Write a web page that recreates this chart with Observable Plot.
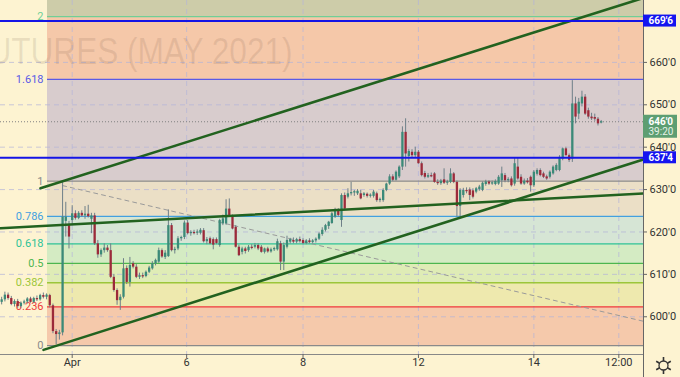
<!DOCTYPE html>
<html><head><meta charset="utf-8">
<script src="https://cdn.jsdelivr.net/npm/d3@7"></script>
<script src="https://cdn.jsdelivr.net/npm/@observablehq/plot@0.6"></script>
<style>html,body{margin:0;padding:0;background:#fdf3d1;overflow:hidden}</style>
</head><body><div id="chart"></div>
<script>
// hourly candles [open, high, low, close], bar index = position
const ohlc = [
[603.4,604.6,602.8,604.0],[604.0,605.8,603.5,605.1],[605.1,605.6,603.9,604.3],[604.3,604.8,602.6,602.9],[602.9,604.0,602.3,603.6],
[603.6,604.1,602.0,602.4],[602.4,603.5,602.0,603.2],[603.2,603.9,602.8,603.5],[603.5,604.5,603.0,604.2],[604.2,604.6,603.2,603.4],
[603.4,604.6,603.1,604.3],[604.3,604.9,603.6,604.0],[604.0,605.3,603.7,605.0],[605.0,605.6,604.2,604.6],[604.6,605.4,604.0,605.1],
[605.0,605.3,602.1,602.6],[602.6,603.0,596.0,596.5],[596.5,597.0,593.4,595.8],[595.8,596.8,594.5,596.2],[596.2,632.0,595.5,623.5],
[622.5,627.0,618.8,623.5],[621.5,622.5,616.0,618.8],[622.7,626.2,621.5,624.3],[624.3,625.0,622.8,623.2],[623.2,624.8,622.9,624.4],
[624.4,625.0,623.5,623.8],[623.8,626.0,623.0,624.2],[624.2,626.3,623.3,623.6],[623.0,624.4,619.6,623.8],[623.8,624.4,616.8,617.2],
[617.2,618.0,613.8,614.6],[614.6,616.0,614.0,615.6],[615.6,617.2,615.0,616.2],[616.2,616.8,615.2,615.6],[615.6,617.2,609.0,609.3],
[609.3,610.0,605.8,606.2],[606.2,606.6,602.7,603.8],[603.8,605.2,601.5,604.6],[604.6,613.7,604.2,611.3],[611.4,612.0,607.6,608.1],
[608.1,614.0,607.0,612.1],[612.5,613.0,611.3,611.7],[611.7,612.3,609.0,609.3],[609.3,610.3,608.8,609.7],[609.7,610.3,609.0,609.5],
[609.5,610.8,609.2,610.5],[610.5,611.9,610.2,611.5],[611.3,613.0,611.0,612.5],[612.5,613.6,612.0,613.3],[612.9,616.2,612.6,615.6],
[615.6,616.0,613.8,614.1],[614.0,615.6,613.5,615.0],[614.2,625.2,614.0,621.5],[621.5,622.0,615.3,615.6],[615.6,616.4,614.8,615.8],
[616.0,618.9,615.6,618.4],[618.4,619.0,617.8,618.7],[618.7,622.6,618.2,622.1],[622.1,622.7,619.3,619.6],[619.6,620.3,619.0,619.9],
[619.9,620.4,619.3,619.7],[619.7,620.5,619.2,620.0],[619.7,620.8,619.3,620.4],[620.3,620.8,617.4,617.7],[617.7,618.7,617.0,618.2],
[618.4,618.8,617.0,617.2],[618.2,618.6,615.8,616.9],[618.2,618.6,617.0,617.3],[616.8,623.0,616.4,622.7],[621.9,624.0,621.5,623.1],
[621.9,627.6,621.6,625.4],[625.4,627.8,623.5,623.9],[623.5,624.0,620.5,620.7],[621.1,621.5,616.2,616.4],[616.4,616.9,614.2,614.4],
[615.2,616.4,614.6,616.0],[616.0,616.4,614.8,615.4],[615.6,616.8,615.2,616.4],[616.4,617.0,615.8,616.2],[616.4,617.3,616.0,616.8],
[616.8,617.2,615.6,616.0],[616.4,616.8,615.0,615.2],[615.2,616.2,614.8,616.0],[616.0,616.4,615.0,615.3],[615.3,616.2,615.0,615.8],
[615.8,616.4,615.4,616.0],[615.8,618.3,615.5,617.7],[617.2,617.8,610.9,612.9],[612.9,617.4,610.9,616.8],[616.4,619.0,616.0,618.0],
[617.6,618.5,617.2,618.2],[618.0,618.6,617.2,617.6],[617.6,618.5,617.2,618.2],[618.2,618.8,617.4,617.8],[618.0,618.4,617.0,617.3],
[617.3,618.2,617.0,617.9],[617.9,618.4,617.2,617.5],[617.5,618.2,617.2,617.9],[617.9,618.6,617.4,618.3],[618.3,619.8,618.0,619.5],
[619.4,621.0,619.0,620.4],[620.4,621.8,620.0,621.5],[621.3,622.5,620.6,622.3],[622.0,624.6,621.8,624.3],[623.5,625.6,623.2,625.0],
[625.0,625.5,623.5,623.9],[622.7,629.0,621.1,628.6],[628.6,629.2,625.0,625.4],[628.2,630.2,627.8,629.0],[629.0,631.7,628.5,629.2],
[629.2,629.8,628.4,629.4],[629.0,630.0,628.6,629.6],[629.0,629.8,627.6,627.8],[628.6,629.3,628.2,629.0],[628.9,629.2,628.0,628.4],
[628.4,629.0,628.0,628.5],[628.4,629.8,628.0,629.4],[629.0,629.4,627.0,627.4],[627.4,628.0,626.9,627.6],[627.4,630.2,627.0,629.8],
[629.8,631.5,629.5,631.3],[631.3,633.5,631.0,633.0],[633.0,633.5,631.9,632.2],[632.2,634.4,632.0,634.1],[633.0,635.6,632.6,635.3],
[635.3,644.8,634.5,643.5],[643.5,646.7,635.3,638.4],[637.8,639.5,636.5,639.0],[638.8,639.4,637.5,638.0],[638.0,640.0,637.5,638.8],
[638.8,639.2,636.0,636.1],[636.1,636.5,633.0,633.3],[633.8,634.3,632.5,632.9],[632.9,633.8,632.6,633.3],[633.3,633.9,632.8,633.1],
[633.7,634.0,631.5,631.7],[631.7,632.3,631.0,631.4],[631.4,632.4,631.0,632.0],[632.3,634.9,631.2,631.5],[631.5,632.2,631.0,631.8],
[631.7,634.9,631.4,633.7],[633.7,634.0,631.4,631.7],[631.7,632.0,623.5,626.0],[626.0,630.2,623.5,629.8],[628.6,630.3,628.0,629.8],
[629.8,630.4,629.0,629.6],[629.9,630.4,627.4,628.6],[629.7,630.2,627.8,628.2],[629.4,630.5,629.0,630.2],[630.0,631.0,629.6,630.6],
[629.8,631.8,629.5,631.5],[631.2,632.2,630.8,631.8],[631.8,632.1,631.0,631.3],[631.3,632.0,631.0,631.6],[631.2,632.3,630.9,631.9],
[631.3,633.3,631.0,632.9],[632.1,635.3,630.5,633.7],[633.3,633.8,631.6,632.1],[632.1,632.8,631.6,632.4],[632.5,633.0,630.6,630.9],
[631.3,637.5,630.8,636.1],[635.3,637.5,632.2,632.5],[632.9,633.5,631.0,631.3],[631.3,632.5,631.0,632.0],[632.0,632.6,631.3,631.6],
[632.9,633.2,629.4,630.9],[630.9,634.5,630.5,634.1],[633.6,634.9,633.2,634.5],[634.5,634.9,633.0,633.3],[633.7,634.1,632.6,632.9],
[633.0,633.4,632.2,632.5],[632.9,634.4,632.5,634.1],[633.7,635.6,633.4,635.3],[634.5,636.1,634.2,635.7],[634.5,638.0,634.2,637.6],
[637.2,639.8,636.8,639.6],[639.6,640.0,637.9,638.0],[638.0,638.4,636.4,636.9],[637.2,655.7,636.4,650.2],[650.2,651.8,645.5,647.1],
[647.8,651.5,646.5,650.6],[650.2,653.2,649.5,651.8],[651.8,652.4,647.5,647.8],[648.6,649.2,646.6,647.1],[647.1,648.0,646.3,646.7],
[647.0,647.8,646.1,646.6],[646.6,647.0,645.0,645.5],[645.7,646.3,645.5,646.0]
];

// Fibonacci retracement
const fibLow = 593.2, fibHigh = 632.0, fibStartBar = 14.3;
const fibRatios = [0, 0.236, 0.382, 0.5, 0.618, 0.786, 1, 1.618, 2, 2.618];
const fibLabels = ["0", "0.236", "0.382", "0.5", "0.618", "0.786", "1", "1.618", "2"];
const fibLineColors = ["#8a8a8a", "#ee3b3b", "#9cc63a", "#4cb64e", "#2dc297", "#42a0e0", "#8a8a8a", "#5a5ae6", "#6fcf97"];
const fibBandColors = ["#f5c9ab", "#eee9ae", "#dfecb6", "#d4ebc3", "#d6e5d5", "#ebdfc6", "#d8cccd", "#f5c8a9", "#cdcca9"];

// horizontal levels & trend lines (bar index, price)
const blueLevels = [669.75, 637.5];
const blueLabels = ["669'6", "637'4"];
const currentPrice = 646.0, currentLabel = "646'0", countdown = "39:20";
const upperChannel = [[12.1, 630.31], [218, 679.45]];
const lowerChannel = [[13.05, 592.19], [200.2, 637.12]];
const flatLine = [[-0.365, 620.87], [200.2, 629.08]];
const dashedLine = [[19.0, 630.94], [200.2, 598.94]];

// axes
const priceTicks = [600, 610, 620, 630, 640, 650, 660];
const priceTickLabels = ["600'0", "610'0", "620'0", "630'0", "640'0", "650'0", "660'0"];
const timeTicks = [22, 57.7, 94, 130, 166, 192.5];
const timeTickLabels = ["Apr", "6", "8", "12", "14", "12:00"];
const watermark = "CORN FUTURES (MAY 2021)";

const xMin = -0.365, xMax = 200.2, yMin = 591.1, yMax = 674.6;
const pxX = 643 / (xMax - xMin), pxY = 354 / (yMax - yMin);

const candles = ohlc.map(([o, h, l, c], i) => ({i, o, h, l, c, up: c >= o}));
const fibLevel = r => fibLow + r * (fibHigh - fibLow);
const bands = fibBandColors.map((fill, k) => ({y1: fibLevel(fibRatios[k]), y2: Math.min(fibLevel(fibRatios[k + 1]), yMax), fill}));
const levels = fibLabels.map((label, k) => ({price: fibLevel(fibRatios[k]), label, color: fibLineColors[k]}));
const tags = blueLevels.map((price, k) => ({price, label: blueLabels[k]}));
const pts = a => a.map(([x, y]) => ({x, y}));
const grid = "#b4b4d8";
const gear = [{x: xMax + 20 / pxX, y: yMin - 11 / pxY}];

const chart = Plot.plot({
  width: 680, height: 377,
  marginLeft: 0, marginRight: 37, marginTop: 0, marginBottom: 23,
  x: {domain: [xMin, xMax], axis: null},
  y: {domain: [yMin, yMax], axis: null},
  color: {type: "identity"},
  style: {background: "#fdf3d1", fontFamily: "Roboto, 'Liberation Sans', sans-serif", fontSize: "11px"},
  marks: [
    Plot.rect(bands, {x1: () => fibStartBar, x2: () => xMax, y1: "y1", y2: "y2", fill: "fill"}),
    Plot.ruleX(timeTicks, {stroke: grid, strokeOpacity: 0.7, strokeDasharray: "5,4"}),
    Plot.ruleY(priceTicks, {stroke: grid, strokeOpacity: 0.7, strokeDasharray: "5,4"}),
    Plot.text([watermark], {frameAnchor: "top-left", dx: 292, dy: 37, textAnchor: "end", fontSize: 37,
      fill: "rgba(100,70,50,0.12)", fontFamily: "'Liberation Sans', sans-serif"}),
    Plot.ruleY(levels, {y: "price", x1: () => fibStartBar, x2: () => xMax, stroke: "color", strokeWidth: 1.3}),
    Plot.text(levels, {x: () => fibStartBar, y: "price", text: "label", textAnchor: "end", dx: -4, fill: "color", fontSize: 11}),
    Plot.ruleY([currentPrice], {stroke: "#808080", strokeDasharray: "1,2"}),
    Plot.line(pts(dashedLine), {x: "x", y: "y", stroke: "#9a9a9a", strokeDasharray: "4,4", strokeWidth: 1, clip: true}),
    Plot.ruleX(candles, {x: "i", y1: "l", y2: "h", stroke: "#6e7f88", strokeWidth: 1}),
    Plot.ruleX(candles, {x: "i", y1: "o", y2: d => Math.abs(d.c - d.o) < 0.3 ? d.o + (d.up ? 0.3 : -0.3) : d.c,
      stroke: d => d.up ? "#3b8a78" : "#9c2a3a", strokeWidth: 2.3}),
    Plot.line(pts(upperChannel), {x: "x", y: "y", stroke: "#22621f", strokeWidth: 2.6, clip: true}),
    Plot.line(pts(lowerChannel), {x: "x", y: "y", stroke: "#22621f", strokeWidth: 2.6, clip: true}),
    Plot.line(pts(flatLine), {x: "x", y: "y", stroke: "#22621f", strokeWidth: 2.6, clip: true}),
    Plot.ruleY(blueLevels, {stroke: "#1414e6", strokeWidth: 2}),
    // axes
    Plot.ruleX([xMax], {y1: yMax, y2: yMin - 23 / pxY, stroke: "#666"}),
    Plot.ruleY([yMin], {x1: xMin, x2: xMax, stroke: "#888"}),
    Plot.ruleY(priceTicks, {x1: xMax, x2: xMax + 4 / pxX, stroke: "#666"}),
    Plot.ruleX(timeTicks, {y1: yMin, y2: yMin - 4 / pxY, stroke: "#666"}),
    Plot.text(priceTicks, {y: d => d, text: (d, k) => priceTickLabels[k], frameAnchor: "right", dx: 6, textAnchor: "start", fill: "#333", fontSize: 11}),
    Plot.text(timeTicks, {x: d => d, text: (d, k) => timeTickLabels[k], frameAnchor: "bottom", dy: 11, fill: "#333", fontSize: 11}),
    // price tags
    Plot.rect(tags, {x1: () => xMax, x2: () => xMax + 33 / pxX, y1: d => d.price - 6 / pxY, y2: d => d.price + 6 / pxY, fill: "#1414f0"}),
    Plot.text(tags, {y: "price", text: "label", frameAnchor: "right", dx: 5, textAnchor: "start", fill: "white", fontWeight: "bold", fontSize: 10}),
    Plot.rect([currentPrice], {x1: () => xMax, x2: () => xMax + 34 / pxX, y1: d => d - 16.5 / pxY, y2: d => d + 6.5 / pxY, fill: "#5d9e72"}),
    Plot.text([currentPrice], {y: d => d, text: () => currentLabel, frameAnchor: "right", dx: 5, textAnchor: "start", fill: "white", fontWeight: "bold", fontSize: 10}),
    Plot.text([currentPrice], {y: d => d, text: () => countdown, frameAnchor: "right", dx: 5, dy: 10.5, textAnchor: "start", fill: "#e6f2e8", fontSize: 10}),
    // settings gear
    Plot.dot(gear, {x: "x", y: "y", symbol: "asterisk", r: 8, stroke: "#333", strokeWidth: 1.6}),
    Plot.dot(gear, {x: "x", y: "y", r: 4.5, fill: "#fdf3d1", stroke: "#333", strokeWidth: 1.3})
  ]
});
d3.select(chart).selectAll("text").filter(function() { return this.textContent === watermark; })
  .attr("textLength", 425).attr("lengthAdjust", "spacingAndGlyphs");
document.getElementById("chart").appendChild(chart);
</script></body></html>
